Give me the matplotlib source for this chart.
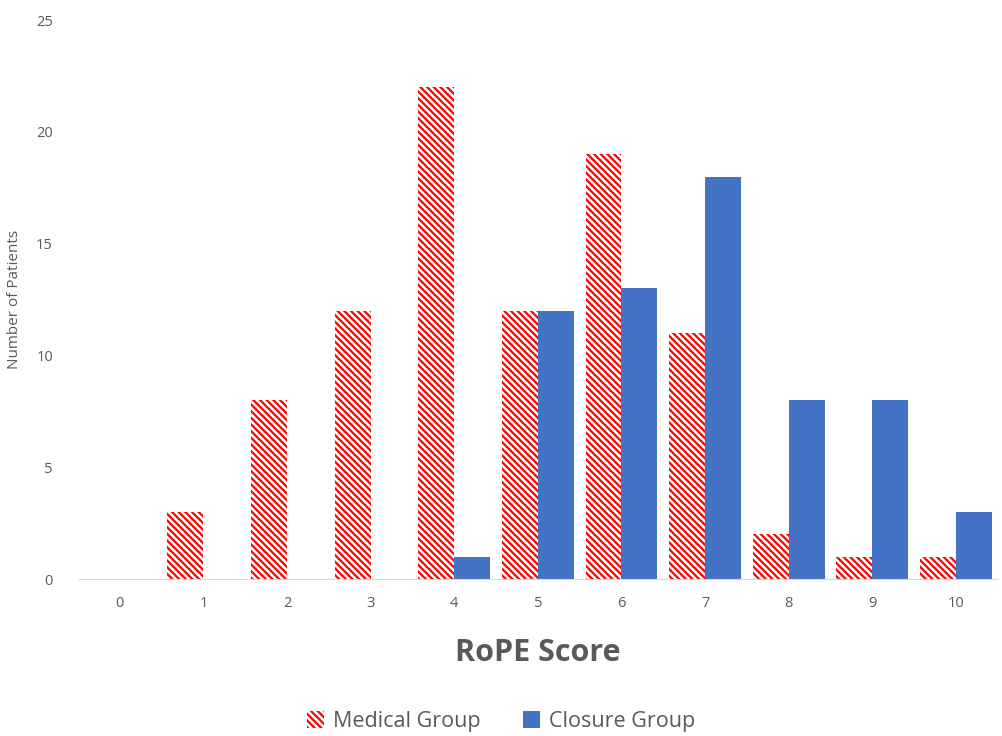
import numpy as np
import matplotlib.pyplot as plt

plt.rcParams['font.family'] = ['Open Sans', 'DejaVu Sans']
plt.rcParams['hatch.linewidth'] = 1.6
plt.rcParams['hatch.color'] = '#ff0000'

scores = list(range(0, 11))
medical = [0, 3, 8, 12, 22, 12, 19, 11, 2, 1, 1]
closure = [0, 0, 0, 0, 1, 12, 13, 18, 8, 8, 3]

GRAY = '#595959'

fig = plt.figure(figsize=(10.02, 7.36), dpi=100)
ax = fig.add_axes([0.0778, 0.2133, 0.918, 0.7595])

x = np.arange(len(scores))
w = 0.43
ax.bar(x - w / 2, medical, w, facecolor='white', edgecolor='#ff0000',
       hatch='\\\\\\\\\\', linewidth=0, label='Medical Group')
ax.bar(x + w / 2, closure, w, color='#4472c4', label='Closure Group')

ax.set_xlim(-0.5, 10.5)
ax.set_ylim(0, 25)
ax.set_xticks(x)
ax.set_xticklabels([str(s) for s in scores])
ax.set_yticks(range(0, 26, 5))
for s in ['top', 'right', 'left']:
    ax.spines[s].set_visible(False)
ax.spines['bottom'].set_color('#d9d9d9')
ax.tick_params(axis='both', length=0, colors=GRAY, labelsize=10.5)
ax.tick_params(axis='x', pad=12)
ax.tick_params(axis='y', pad=18)

ax.set_ylabel('Number of Patients', color=GRAY, fontsize=11, labelpad=10)
ax.set_xlabel('RoPE Score', color=GRAY, fontsize=22, fontweight='bold', labelpad=20)

h, l = ax.get_legend_handles_labels()
leg = fig.legend(h, l, loc='center', bbox_to_anchor=(0.5, 0.02), ncol=2, frameon=False,
                 fontsize=15.5, handlelength=0.8, handleheight=0.8, columnspacing=2.0,
                 handletextpad=0.4)
for t in leg.get_texts():
    t.set_color(GRAY)

fig.savefig('out.png', dpi=100)
